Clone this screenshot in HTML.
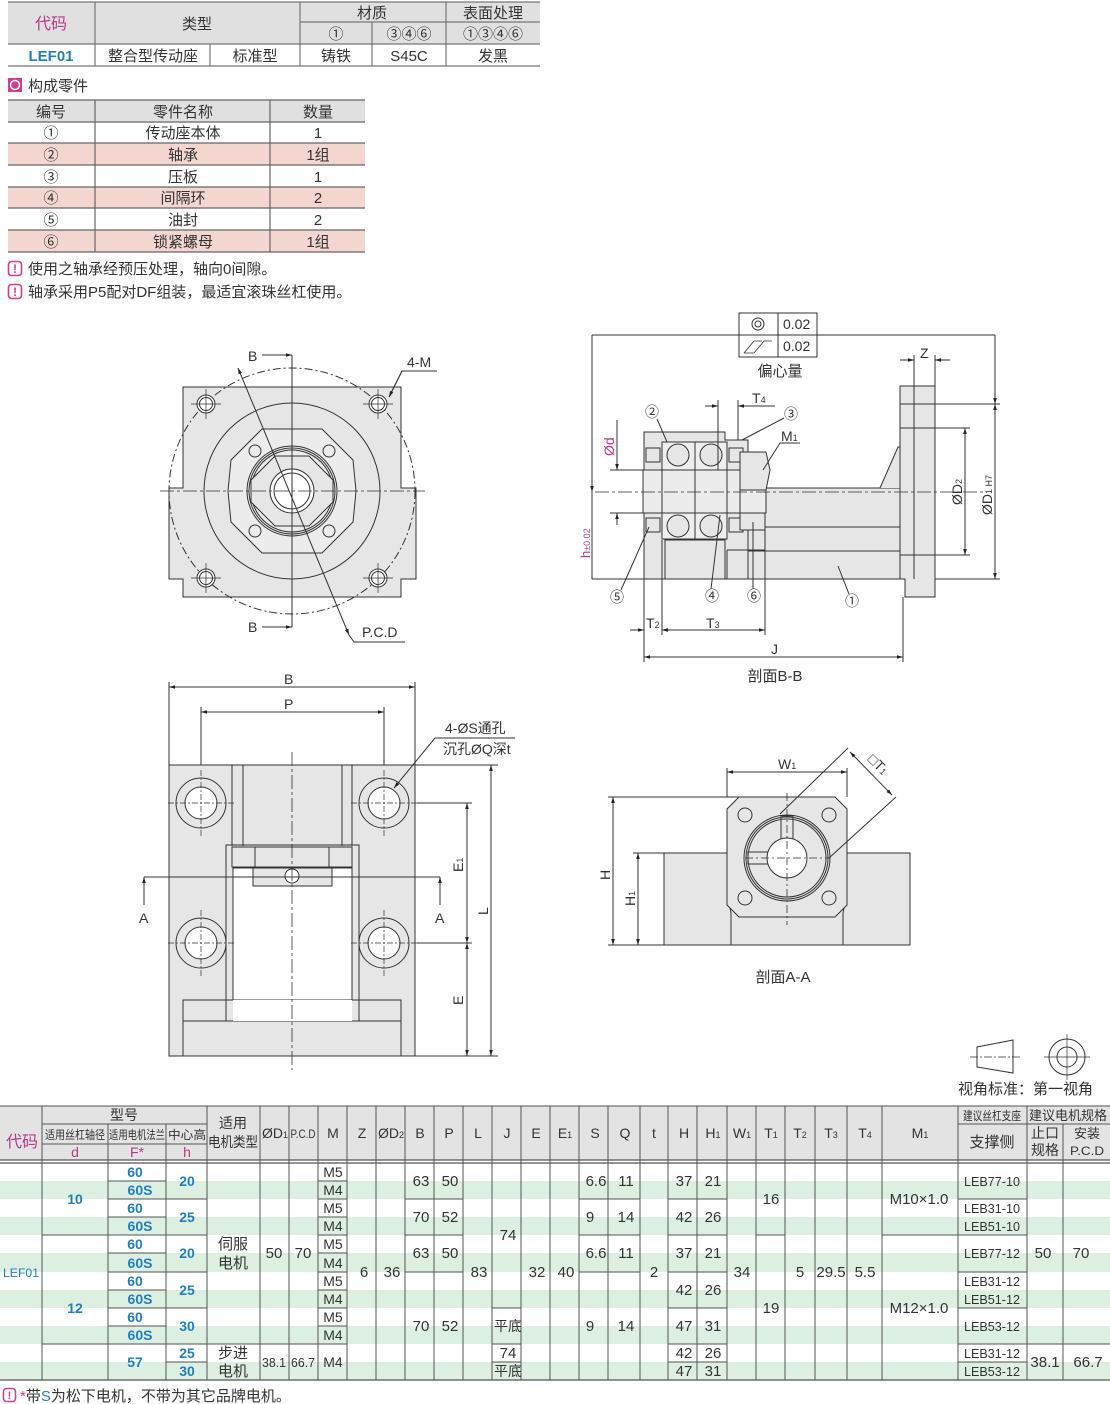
<!DOCTYPE html>
<html><head><meta charset="utf-8"><style>
html,body{margin:0;padding:0;background:#fff;}
svg{display:block;font-family:"Liberation Sans","Noto Sans CJK SC",sans-serif;}
</style></head><body>
<svg width="1110" height="1404" viewBox="0 0 1110 1404" xmlns="http://www.w3.org/2000/svg">
<defs>
<marker id="ar" viewBox="0 0 10 10" refX="10" refY="5" markerWidth="8" markerHeight="6" orient="auto-start-reverse"><path d="M0,2 L10,5 L0,8z" fill="#222"/></marker>
</defs>

<!-- ===== top table ===== -->
<rect x="8" y="2" width="532" height="42" fill="#e0e0e0"/>
<g stroke="#777" stroke-width="1.2" fill="none">
<line x1="8" y1="2" x2="540" y2="2"/><line x1="300" y1="22" x2="540" y2="22"/>
<line x1="8" y1="44" x2="540" y2="44"/><line x1="8" y1="66" x2="540" y2="66"/>
<line x1="95" y1="2" x2="95" y2="66"/><line x1="300" y1="2" x2="300" y2="66"/>
<line x1="372" y1="22" x2="372" y2="66"/><line x1="446" y1="2" x2="446" y2="66"/>
<line x1="210" y1="44" x2="210" y2="66"/>
</g>
<g font-size="15" text-anchor="middle" fill="#333">
<text x="51" y="29" fill="#b8378a" font-size="16">代码</text>
<text x="197" y="29">类型</text><text x="372" y="18">材质</text><text x="493" y="18">表面处理</text>
<text x="336" y="39">①</text><text x="409" y="39">③④⑥</text><text x="493" y="39">①③④⑥</text>
<text x="51" y="61" fill="#1f7fc0" font-weight="bold">LEF01</text>
<text x="153" y="61">整合型传动座</text><text x="255" y="61">标准型</text>
<text x="336" y="61">铸铁</text><text x="409" y="61">S45C</text><text x="493" y="61">发黑</text>
</g>

<rect x="8" y="78" width="14" height="14" fill="#d63a8c"/><circle cx="15" cy="85" r="4.5" fill="none" stroke="#fff" stroke-width="1.5"/>
<text x="28" y="91" font-size="15" fill="#333">构成零件</text>

<!-- parts table -->
<rect x="8" y="100" width="357" height="22" fill="#e0e0e0"/>
<rect x="8" y="143" width="357" height="22" fill="#f2d6cf"/>
<rect x="8" y="187" width="357" height="21" fill="#f2d6cf"/>
<rect x="8" y="230" width="357" height="22" fill="#f2d6cf"/>
<g stroke="#666" stroke-width="1.2">
<line x1="8" y1="100" x2="365" y2="100"/><line x1="8" y1="122" x2="365" y2="122"/>
<line x1="8" y1="143" x2="365" y2="143"/><line x1="8" y1="165" x2="365" y2="165"/>
<line x1="8" y1="187" x2="365" y2="187"/><line x1="8" y1="208" x2="365" y2="208"/>
<line x1="8" y1="230" x2="365" y2="230"/><line x1="8" y1="252" x2="365" y2="252"/>
<line x1="95" y1="100" x2="95" y2="252"/><line x1="270" y1="100" x2="270" y2="252"/>
</g>
<g font-size="15" text-anchor="middle" fill="#333">
<text x="51" y="117">编号</text><text x="183" y="117">零件名称</text><text x="318" y="117">数量</text>
<text x="51" y="138">①</text><text x="183" y="138">传动座本体</text><text x="318" y="138">1</text>
<text x="51" y="160">②</text><text x="183" y="160">轴承</text><text x="318" y="160">1组</text>
<text x="51" y="182">③</text><text x="183" y="182">压板</text><text x="318" y="182">1</text>
<text x="51" y="203">④</text><text x="183" y="203">间隔环</text><text x="318" y="203">2</text>
<text x="51" y="225">⑤</text><text x="183" y="225">油封</text><text x="318" y="225">2</text>
<text x="51" y="247">⑥</text><text x="183" y="247">锁紧螺母</text><text x="318" y="247">1组</text>
</g>
<g font-size="15" fill="#333">
<rect x="8.5" y="261.5" width="13" height="14" rx="3" fill="none" stroke="#d63a8c" stroke-width="1.6"/><text x="15" y="273" text-anchor="middle" fill="#d63a8c" font-size="12" font-weight="bold">!</text>
<text x="28" y="274">使用之轴承经预压处理，轴向0间隙。</text>
<rect x="8.5" y="284.5" width="13" height="14" rx="3" fill="none" stroke="#d63a8c" stroke-width="1.6"/><text x="15" y="296" text-anchor="middle" fill="#d63a8c" font-size="12" font-weight="bold">!</text>
<text x="28" y="297">轴承采用P5配对DF组装，最适宜滚珠丝杠使用。</text>
</g>

<!-- ===== front view ===== -->
<g stroke="#333" stroke-width="1" fill="none">
<path d="M183,387 L401,387 L401,488 L416,488 L416,579 L401,579 L401,597 L183,597 L183,579 L169,579 L169,488 L183,488 Z" fill="#e6e6e6"/>
<circle cx="292" cy="491" r="123" stroke-dasharray="8,3,2,3"/>
<circle cx="292" cy="491" r="88"/>
<path d="M262,429 L322,429 L353,460 L356,491 L353,522 L322,553 L262,553 L231,522 L228,491 L231,460 Z" fill="#ececec"/>
<circle cx="255" cy="451" r="6"/><circle cx="329" cy="451" r="6"/><circle cx="255" cy="531" r="6"/><circle cx="329" cy="531" r="6"/>
<circle cx="292" cy="491" r="45"/><circle cx="292" cy="491" r="43"/><circle cx="292" cy="491" r="41"/>
<path d="M275,456 L309,456 L333,480 L333,502 L309,526 L275,526 L251,502 L251,480 Z" fill="#e6e6e6"/>
<circle cx="292" cy="491" r="22" fill="#fff"/><circle cx="292" cy="491" r="18" fill="#fff"/>
<g fill="#fff"><circle cx="206" cy="404" r="9"/><circle cx="378" cy="404" r="9"/><circle cx="206" cy="578" r="9"/><circle cx="378" cy="578" r="9"/></g>
<circle cx="206" cy="404" r="6.5"/><circle cx="378" cy="404" r="6.5"/><circle cx="206" cy="578" r="6.5"/><circle cx="378" cy="578" r="6.5"/>
<g stroke-width="0.7"><path d="M191,404h30M206,389v30M363,404h30M378,389v30M191,578h30M206,563v30M363,578h30M378,563v30"/></g>
<line x1="160" y1="491" x2="425" y2="491" stroke-dasharray="14,3,3,3" stroke-width="0.8"/>
<line x1="292" y1="355" x2="292" y2="627"/>
<line x1="262" y1="355" x2="292" y2="355" marker-end="url(#ar)"/>
<line x1="262" y1="627" x2="292" y2="627" marker-end="url(#ar)"/>
<line x1="238" y1="368" x2="349" y2="635" marker-start="url(#ar)" marker-end="url(#ar)"/>
<path d="M349,635 L354,642 L405,642"/>
<path d="M389,397 L402,371 L437,371" /><line x1="402" y1="371" x2="389" y2="397" marker-end="url(#ar)"/>
</g>
<g font-size="14" fill="#333">
<text x="248" y="361">B</text><text x="248" y="632">B</text>
<text x="407" y="367">4-M</text><text x="362" y="637">P.C.D</text>
</g>

<!-- ===== section B-B ===== -->
<g stroke="#333" stroke-width="1" fill="none">
<rect x="739" y="313" width="78" height="44"/><line x1="739" y1="335" x2="817" y2="335"/><line x1="778" y1="313" x2="778" y2="357"/>
<circle cx="758" cy="324" r="6"/><circle cx="758" cy="324" r="3"/>
<path d="M744,353 L754,341 L762,341 M754,353 L764,341 L772,341 M744,353 L754,353" stroke-width="0.8"/>
<line x1="592" y1="335" x2="739" y2="335"/><line x1="817" y1="335" x2="995" y2="335"/>
<line x1="592" y1="335" x2="592" y2="579"/>
<!-- body -->
<rect x="748" y="488" width="157" height="91" fill="#e6e6e6"/>
<line x1="748" y1="527" x2="905" y2="527"/><line x1="748" y1="551" x2="905" y2="551"/>
<path d="M880,488 L898,447 L905,447 L905,488" fill="#e6e6e6"/>
<path d="M900,386 L935,386 L935,597 L905,597 L905,579 L900,579 Z" fill="#e6e6e6"/>
<line x1="914" y1="386" x2="914" y2="579"/><line x1="900" y1="404" x2="935" y2="404"/><line x1="900" y1="428" x2="935" y2="428"/><line x1="900" y1="555" x2="935" y2="555"/>
<path d="M644,432 L725,432 L725,440 L748,440 L748,579 L644,579 Z" fill="#e6e6e6"/>
<rect x="665" y="540" width="60" height="39" fill="#e6e6e6"/>
<line x1="665" y1="540" x2="665" y2="579"/><line x1="727" y1="550" x2="727" y2="579"/><line x1="727" y1="550" x2="765" y2="550"/>
<!-- bearings -->
<rect x="662" y="442" width="33" height="97" fill="#eee"/><rect x="695" y="442" width="32" height="97" fill="#eee"/>
<circle cx="678" cy="455" r="11" fill="#e6e6e6"/><circle cx="711" cy="455" r="11" fill="#e6e6e6"/>
<circle cx="678" cy="526" r="11" fill="#e6e6e6"/><circle cx="711" cy="526" r="11" fill="#e6e6e6"/>
<rect x="646" y="448" width="14" height="14"/><rect x="646" y="518" width="14" height="14"/>
<rect x="729" y="448" width="14" height="14"/><rect x="729" y="518" width="14" height="14"/>
<!-- shaft -->
<rect x="643" y="470" width="123" height="43" fill="#ececec"/>
<line x1="662" y1="470" x2="662" y2="513"/><line x1="695" y1="470" x2="695" y2="513"/><line x1="727" y1="470" x2="727" y2="513"/><line x1="740" y1="470" x2="740" y2="513"/>
<path d="M740,452 L766,452 L770,470 L766,490 L740,490 Z" fill="#e6e6e6"/>
<path d="M740,513 L765,513 L765,530 L740,530 Z" fill="#e6e6e6"/>
<line x1="595" y1="492" x2="985" y2="492" stroke-dasharray="14,3,3,3" stroke-width="0.8"/>
<!-- dims -->
<line x1="610" y1="470" x2="643" y2="470"/><line x1="610" y1="513" x2="643" y2="513"/>
<line x1="617" y1="420" x2="617" y2="470" marker-end="url(#ar)"/><line x1="617" y1="525" x2="617" y2="513" marker-end="url(#ar)"/>
<line x1="592" y1="579" x2="900" y2="579"/>
<line x1="592" y1="480" x2="592" y2="492" marker-end="url(#ar)"/>
<line x1="935" y1="404" x2="1000" y2="404"/><line x1="935" y1="579" x2="1000" y2="579"/>
<line x1="935" y1="428" x2="970" y2="428"/><line x1="935" y1="555" x2="970" y2="555"/>
<line x1="965" y1="492" x2="965" y2="428" marker-end="url(#ar)"/><line x1="965" y1="492" x2="965" y2="555" marker-end="url(#ar)"/>
<line x1="995" y1="335" x2="995" y2="404" marker-end="url(#ar)"/><line x1="995" y1="492" x2="995" y2="579" marker-end="url(#ar)"/><line x1="995" y1="492" x2="995" y2="404" marker-end="url(#ar)"/>
<line x1="914" y1="355" x2="914" y2="386"/><line x1="935" y1="355" x2="935" y2="386"/>
<line x1="900" y1="360" x2="914" y2="360" marker-end="url(#ar)"/><line x1="950" y1="360" x2="935" y2="360" marker-end="url(#ar)"/>
<line x1="718" y1="400" x2="718" y2="470"/><line x1="738" y1="400" x2="738" y2="440"/>
<line x1="705" y1="406" x2="718" y2="406" marker-end="url(#ar)"/><line x1="752" y1="406" x2="738" y2="406" marker-end="url(#ar)"/><line x1="752" y1="406" x2="775" y2="406"/>
<line x1="644" y1="579" x2="644" y2="662"/><line x1="662" y1="540" x2="662" y2="635"/><line x1="765" y1="530" x2="765" y2="635"/><line x1="903" y1="597" x2="903" y2="662"/>
<line x1="630" y1="630" x2="644" y2="630" marker-end="url(#ar)"/><line x1="675" y1="630" x2="662" y2="630" marker-end="url(#ar)"/>
<line x1="662" y1="630" x2="765" y2="630" marker-start="url(#ar)" marker-end="url(#ar)"/>
<line x1="644" y1="657" x2="903" y2="657" marker-start="url(#ar)" marker-end="url(#ar)"/>
<!-- leaders -->
<line x1="657" y1="419" x2="667" y2="442"/><line x1="784" y1="418" x2="742" y2="440"/>
<path d="M800,443 L780,443 L763,470"/>
<line x1="621" y1="590" x2="649" y2="527"/><line x1="711" y1="589" x2="720" y2="515"/><line x1="753" y1="589" x2="753" y2="522"/><line x1="849" y1="594" x2="838" y2="566"/>
</g>
<g font-size="14" fill="#333">
<text x="783" y="329">0.02</text><text x="783" y="351">0.02</text>
<text x="780" y="376" text-anchor="middle" font-size="15">偏心量</text>
<text x="920" y="358">Z</text>
<text x="752" y="403">T<tspan font-size="9">4</tspan></text>
<text x="645" y="417">②</text><text x="784" y="419">③</text><text x="781" y="441">M<tspan font-size="9">1</tspan></text>
<text x="610" y="602">⑤</text><text x="705" y="601">④</text><text x="747" y="601">⑥</text><text x="845" y="606">①</text>
<text x="646" y="628">T<tspan font-size="9">2</tspan></text><text x="706" y="628">T<tspan font-size="9">3</tspan></text>
<text x="771" y="654">J</text>
<text x="775" y="681" text-anchor="middle" font-size="15">剖面B-B</text>
<text transform="translate(614,456) rotate(-90)" fill="#b8378a" font-size="14">Ød</text>
<text transform="translate(590,558) rotate(-90)" fill="#b8378a" font-size="13">h<tspan font-size="9">±0.02</tspan></text>
<text transform="translate(962,505) rotate(-90)">ØD<tspan font-size="9">2</tspan></text>
<text transform="translate(992,515) rotate(-90)">ØD<tspan font-size="9">1 H7</tspan></text>
</g>

<!-- ===== bottom view ===== -->
<g stroke="#333" stroke-width="1" fill="none">
<rect x="169" y="765" width="246" height="291" fill="#e6e6e6"/>
<line x1="232" y1="765" x2="232" y2="846"/><line x1="243" y1="765" x2="243" y2="846"/><line x1="342" y1="765" x2="342" y2="846"/><line x1="352" y1="765" x2="352" y2="846"/>
<rect x="226" y="845" width="133" height="176"/>
<rect x="233" y="868" width="119" height="153" fill="#fff"/>
<rect x="232" y="847" width="120" height="20" fill="#e6e6e6"/><line x1="255" y1="847" x2="255" y2="867"/><line x1="329" y1="847" x2="329" y2="867"/>
<rect x="253" y="868" width="79" height="18" fill="#e6e6e6"/>
<circle cx="292" cy="876" r="7" fill="#fff"/>
<rect x="183" y="1000" width="218" height="56" fill="#e6e6e6"/><line x1="183" y1="1021" x2="401" y2="1021"/>
<rect x="233" y="1000" width="119" height="21" fill="#fff" stroke="none"/>
<line x1="226" y1="1000" x2="226" y2="1021"/><line x1="359" y1="1000" x2="359" y2="1021"/>
<g fill="#e6e6e6"><circle cx="201" cy="803" r="25"/><circle cx="384" cy="803" r="25"/><circle cx="201" cy="943" r="25"/><circle cx="384" cy="943" r="25"/></g>
<g fill="#fff"><circle cx="201" cy="803" r="16"/><circle cx="384" cy="803" r="16"/><circle cx="201" cy="943" r="16"/><circle cx="384" cy="943" r="16"/></g>
<g stroke-width="0.7" stroke-dasharray="6,2,2,2"><path d="M168,803h66M201,770v66M351,803h66M384,770v66M168,943h66M201,910v66M351,943h66M384,910v66"/></g>
<line x1="292" y1="752" x2="292" y2="1070" stroke-dasharray="14,3,3,3" stroke-width="0.8"/>
<line x1="169" y1="682" x2="169" y2="765"/><line x1="415" y1="682" x2="415" y2="765"/>
<line x1="201" y1="707" x2="201" y2="765"/><line x1="384" y1="707" x2="384" y2="765"/>
<line x1="169" y1="687" x2="415" y2="687" marker-start="url(#ar)" marker-end="url(#ar)"/>
<line x1="201" y1="712" x2="384" y2="712" marker-start="url(#ar)" marker-end="url(#ar)"/>
<path d="M435,738 L515,738"/><line x1="435" y1="738" x2="394" y2="788" marker-end="url(#ar)"/>
<line x1="144" y1="877" x2="440" y2="877"/>
<line x1="144" y1="905" x2="144" y2="877" marker-end="url(#ar)"/><line x1="440" y1="905" x2="440" y2="877" marker-end="url(#ar)"/>
<line x1="415" y1="765" x2="498" y2="765"/><line x1="417" y1="803" x2="472" y2="803"/><line x1="417" y1="943" x2="472" y2="943"/><line x1="415" y1="1056" x2="498" y2="1056"/>
<line x1="467" y1="803" x2="467" y2="943" marker-start="url(#ar)" marker-end="url(#ar)"/>
<line x1="467" y1="943" x2="467" y2="1056" marker-start="url(#ar)" marker-end="url(#ar)"/>
<line x1="491" y1="765" x2="491" y2="1056" marker-start="url(#ar)" marker-end="url(#ar)"/>
</g>
<g font-size="14" fill="#333">
<text x="284" y="684">B</text><text x="284" y="709">P</text>
<text x="445" y="733">4-ØS通孔</text><text x="443" y="754">沉孔ØQ深t</text>
<text x="139" y="923">A</text><text x="435" y="923">A</text>
<text transform="translate(463,872) rotate(-90)">E<tspan font-size="9">1</tspan></text>
<text transform="translate(463,1005) rotate(-90)">E</text>
<text transform="translate(488,915) rotate(-90)">L</text>
</g>

<!-- ===== section A-A ===== -->
<g stroke="#333" stroke-width="1" fill="none">
<rect x="664" y="853" width="246" height="92" fill="#e6e6e6"/>
<path d="M727,853 L727,893 L731,913 L731,945 M847,853 L847,893 L843,913 L843,945"/>
<path d="M739,797 L835,797 L847,809 L847,905 L835,917 L739,917 L727,905 L727,809 Z" fill="#e6e6e6"/>
<circle cx="787" cy="858" r="43"/><circle cx="787" cy="858" r="41"/><circle cx="787" cy="858" r="39"/>
<rect x="781" y="816" width="12" height="24"/><rect x="748" y="852" width="24" height="12"/>
<circle cx="787" cy="858" r="20" fill="#fff"/>
<circle cx="745" cy="815" r="7"/><circle cx="829" cy="815" r="7"/><circle cx="745" cy="898" r="7"/><circle cx="829" cy="898" r="7"/>
<line x1="745" y1="858" x2="830" y2="858" stroke-dasharray="8,3,2,3" stroke-width="0.8"/>
<line x1="787" y1="793" x2="787" y2="925" stroke-dasharray="8,3,2,3" stroke-width="0.8"/>
<line x1="727" y1="768" x2="727" y2="797"/><line x1="847" y1="768" x2="847" y2="797"/>
<line x1="727" y1="772" x2="847" y2="772" marker-start="url(#ar)" marker-end="url(#ar)"/>
<line x1="780" y1="814" x2="848" y2="748"/><line x1="829" y1="858" x2="896" y2="797"/>
<line x1="850" y1="752" x2="892" y2="795" marker-start="url(#ar)" marker-end="url(#ar)"/>
<line x1="608" y1="797" x2="739" y2="797"/><line x1="608" y1="945" x2="664" y2="945"/><line x1="633" y1="853" x2="664" y2="853"/>
<line x1="613" y1="797" x2="613" y2="945" marker-start="url(#ar)" marker-end="url(#ar)"/>
<line x1="638" y1="853" x2="638" y2="945" marker-start="url(#ar)" marker-end="url(#ar)"/>
</g>
<g font-size="14" fill="#333">
<text x="778" y="769">W<tspan font-size="9">1</tspan></text>
<text transform="translate(867,760) rotate(45)">□T<tspan font-size="9">1</tspan></text>
<text transform="translate(610,880) rotate(-90)">H</text>
<text transform="translate(635,906) rotate(-90)">H<tspan font-size="9">1</tspan></text>
<text x="783" y="982" text-anchor="middle" font-size="15">剖面A-A</text>
</g>

<!-- view icons -->
<g stroke="#333" stroke-width="1" fill="none">
<path d="M977,1047 L1013,1040 L1013,1073 L977,1067 Z"/>
<line x1="970" y1="1057" x2="1020" y2="1057" stroke-dasharray="8,2,2,2" stroke-width="0.7"/>
<circle cx="1067" cy="1057" r="18"/><circle cx="1067" cy="1057" r="10"/>
<line x1="1044" y1="1057" x2="1090" y2="1057" stroke-width="0.7"/><line x1="1067" y1="1034" x2="1067" y2="1080" stroke-width="0.7"/>
</g>
<text x="958" y="1094" font-size="15" fill="#333">视角标准：第一视角</text>

<!-- ===== bottom table ===== -->
<rect x="0" y="1106" width="1110" height="54" fill="#e3e3e3"/>
<g fill="#dcefe0">
<rect x="0" y="1181" width="1110" height="18"/><rect x="0" y="1217" width="1110" height="18"/>
<rect x="0" y="1253" width="1110" height="19"/><rect x="0" y="1290" width="1110" height="18"/>
<rect x="0" y="1326" width="1110" height="18"/><rect x="0" y="1362" width="1110" height="18"/>
</g>
<g stroke="#555" stroke-width="1">
<line x1="0" y1="1106" x2="1110" y2="1106"/>
<line x1="42" y1="1124" x2="207" y2="1124"/><line x1="958" y1="1124" x2="1110" y2="1124"/>
<line x1="42" y1="1144" x2="207" y2="1144"/>
<line x1="0" y1="1160" x2="1110" y2="1160" stroke-width="1.3"/><line x1="0" y1="1163" x2="1110" y2="1163" stroke-width="1.3"/>
<line x1="0" y1="1380" x2="1110" y2="1380" stroke-width="1.3"/>
<path d="M42,1106V1380M108,1124V1380M166,1124V1380M207,1106V1380M260,1106V1380M289,1106V1380M318,1106V1380M347,1106V1380M376,1106V1380M405,1106V1380M434,1106V1380M463,1106V1380M492,1106V1380M521,1106V1380M550,1106V1380M579,1106V1380M608,1106V1380M640,1106V1380M668,1106V1380M697,1106V1380M727,1106V1380M756,1106V1380M785,1106V1380M815,1106V1380M847,1106V1380M882,1106V1380M958,1106V1380M1027,1106V1380M1063,1124V1380"/>
<!-- row separators: y list 1181,1199,1217,1235,1253,1272,1290,1308,1326,1344,1362 -->
<path d="M42,1235H108M42,1344H108"/>
<path d="M108,1181H166M108,1199H166M108,1217H166M108,1235H166M108,1253H166M108,1272H166M108,1290H166M108,1308H166M108,1326H166M108,1344H166"/>
<path d="M166,1199H207M166,1235H207M166,1272H207M166,1308H207M166,1344H207M166,1362H207"/>
<path d="M207,1344H347"/>
<path d="M318,1181H347M318,1199H347M318,1217H347M318,1235H347M318,1253H347M318,1272H347M318,1290H347M318,1308H347M318,1326H347"/>
<path d="M405,1199H463M405,1235H463M405,1272H463"/>
<path d="M492,1308H521M492,1344H521M492,1362H521"/>
<path d="M579,1199H640M579,1235H640M579,1272H640"/>
<path d="M668,1199H727M668,1235H727M668,1272H727M668,1308H727M668,1344H727M668,1362H727"/>
<path d="M756,1235H785M882,1235H958"/>
<path d="M958,1199H1027M958,1235H1027M958,1272H1027M958,1308H1027M958,1344H1027M958,1362H1027"/>
<path d="M1027,1344H1110"/>
</g>
<g font-size="14" fill="#333" text-anchor="middle">
<text x="22" y="1147" fill="#b8378a" font-size="16">代码</text>
<text x="124" y="1120">型号</text>
<text x="75" y="1139" font-size="12" textLength="60" lengthAdjust="spacingAndGlyphs">适用丝杠轴径</text>
<text x="137" y="1139" font-size="12" textLength="56" lengthAdjust="spacingAndGlyphs">适用电机法兰</text>
<text x="187" y="1139" font-size="12" textLength="38" lengthAdjust="spacingAndGlyphs">中心高</text>
<text x="75" y="1157" fill="#b8378a">d</text><text x="137" y="1157" fill="#b8378a">F*</text><text x="187" y="1157" fill="#b8378a">h</text>
<text x="233" y="1128">适用</text><text x="233" y="1147" textLength="50" lengthAdjust="spacingAndGlyphs">电机类型</text>
<text x="275" y="1138">ØD<tspan font-size="9">1</tspan></text>
<text x="303" y="1138" font-size="12" textLength="25" lengthAdjust="spacingAndGlyphs">P.C.D</text>
<text x="333" y="1138">M</text><text x="362" y="1138">Z</text>
<text x="391" y="1138">ØD<tspan font-size="9">2</tspan></text>
<text x="420" y="1138">B</text><text x="449" y="1138">P</text><text x="478" y="1138">L</text><text x="507" y="1138">J</text><text x="536" y="1138">E</text>
<text x="565" y="1138">E<tspan font-size="9">1</tspan></text><text x="595" y="1138">S</text><text x="625" y="1138">Q</text><text x="654" y="1138">t</text>
<text x="684" y="1138">H</text><text x="713" y="1138">H<tspan font-size="9">1</tspan></text><text x="742" y="1138">W<tspan font-size="9">1</tspan></text>
<text x="771" y="1138">T<tspan font-size="9">1</tspan></text><text x="800" y="1138">T<tspan font-size="9">2</tspan></text><text x="831" y="1138">T<tspan font-size="9">3</tspan></text><text x="865" y="1138">T<tspan font-size="9">4</tspan></text>
<text x="920" y="1138">M<tspan font-size="9">1</tspan></text>
<text x="992" y="1120" font-size="12" textLength="58" lengthAdjust="spacingAndGlyphs">建议丝杠支座</text>
<text x="992" y="1147" font-size="15">支撑侧</text>
<text x="1068" y="1120" font-size="13" textLength="78" lengthAdjust="spacingAndGlyphs">建议电机规格</text>
<text x="1045" y="1138" font-size="14">止口</text><text x="1045" y="1155" font-size="14">规格</text>
<text x="1087" y="1138" font-size="13">安装</text><text x="1087" y="1155" font-size="12" textLength="34" lengthAdjust="spacingAndGlyphs">P.C.D</text>
</g>
<g font-size="14" fill="#333" text-anchor="middle">
<g fill="#1f7fc0" font-weight="bold">
<text x="21" y="1277" font-size="12" font-weight="normal" textLength="36" lengthAdjust="spacingAndGlyphs">LEF01</text>
<text x="75" y="1204">10</text><text x="75" y="1313">12</text>
<text x="135" y="1177">60</text><text x="140" y="1195">60S</text><text x="135" y="1213">60</text><text x="140" y="1231">60S</text>
<text x="135" y="1249">60</text><text x="140" y="1268">60S</text><text x="135" y="1286">60</text><text x="140" y="1304">60S</text>
<text x="135" y="1322">60</text><text x="140" y="1340">60S</text><text x="135" y="1367">57</text>
<text x="187" y="1186">20</text><text x="187" y="1222">25</text><text x="187" y="1258">20</text><text x="187" y="1295">25</text><text x="187" y="1331">30</text>
<text x="187" y="1358">25</text><text x="187" y="1376">30</text>
</g>
<text x="233" y="1249" font-size="15">伺服</text><text x="233" y="1268" font-size="15">电机</text>
<text x="233" y="1358" font-size="15">步进</text><text x="233" y="1376" font-size="15">电机</text>
<text x="274" y="1258" font-size="15">50</text><text x="303" y="1258" font-size="15">70</text>
<text x="274" y="1367" font-size="13" textLength="24" lengthAdjust="spacingAndGlyphs">38.1</text><text x="303" y="1367" font-size="13" textLength="24" lengthAdjust="spacingAndGlyphs">66.7</text>
<g font-size="14">
<text x="333" y="1177">M5</text><text x="333" y="1195">M4</text><text x="333" y="1213">M5</text><text x="333" y="1231">M4</text>
<text x="333" y="1249">M5</text><text x="333" y="1268">M4</text><text x="333" y="1286">M5</text><text x="333" y="1304">M4</text>
<text x="333" y="1322">M5</text><text x="333" y="1340">M4</text><text x="333" y="1367">M4</text>
</g>
<g font-size="15">
<text x="364" y="1277">6</text><text x="392" y="1277">36</text>
<text x="421" y="1186">63</text><text x="450" y="1186">50</text><text x="421" y="1222">70</text><text x="450" y="1222">52</text>
<text x="421" y="1258">63</text><text x="450" y="1258">50</text><text x="421" y="1331">70</text><text x="450" y="1331">52</text>
<text x="479" y="1277">83</text>
<text x="508" y="1240">74</text><text x="508" y="1331" font-size="14">平底</text><text x="508" y="1358">74</text><text x="508" y="1376" font-size="14">平底</text>
<text x="537" y="1277">32</text><text x="566" y="1277">40</text>
<text x="596" y="1186">6.6</text><text x="626" y="1186">11</text><text x="590" y="1222">9</text><text x="626" y="1222">14</text>
<text x="596" y="1258">6.6</text><text x="626" y="1258">11</text><text x="590" y="1331">9</text><text x="626" y="1331">14</text>
<text x="654" y="1277">2</text>
<text x="684" y="1186">37</text><text x="713" y="1186">21</text><text x="684" y="1222">42</text><text x="713" y="1222">26</text>
<text x="684" y="1258">37</text><text x="713" y="1258">21</text><text x="684" y="1295">42</text><text x="713" y="1295">26</text>
<text x="684" y="1331">47</text><text x="713" y="1331">31</text><text x="684" y="1358">42</text><text x="713" y="1358">26</text>
<text x="684" y="1376">47</text><text x="713" y="1376">31</text>
<text x="742" y="1277">34</text><text x="771" y="1204">16</text><text x="771" y="1313">19</text>
<text x="800" y="1277">5</text><text x="831" y="1277">29.5</text><text x="865" y="1277">5.5</text>
<text x="919" y="1204">M10×1.0</text><text x="919" y="1313">M12×1.0</text>
<text x="1043" y="1258">50</text><text x="1081" y="1258">70</text>
<text x="1045" y="1367">38.1</text><text x="1088" y="1367">66.7</text>
</g>
<g font-size="13">
<text x="992" y="1186" textLength="56" lengthAdjust="spacingAndGlyphs">LEB77-10</text>
<text x="992" y="1213" textLength="56" lengthAdjust="spacingAndGlyphs">LEB31-10</text>
<text x="992" y="1231" textLength="56" lengthAdjust="spacingAndGlyphs">LEB51-10</text>
<text x="992" y="1258" textLength="56" lengthAdjust="spacingAndGlyphs">LEB77-12</text>
<text x="992" y="1286" textLength="56" lengthAdjust="spacingAndGlyphs">LEB31-12</text>
<text x="992" y="1304" textLength="56" lengthAdjust="spacingAndGlyphs">LEB51-12</text>
<text x="992" y="1331" textLength="56" lengthAdjust="spacingAndGlyphs">LEB53-12</text>
<text x="992" y="1358" textLength="56" lengthAdjust="spacingAndGlyphs">LEB31-12</text>
<text x="992" y="1376" textLength="56" lengthAdjust="spacingAndGlyphs">LEB53-12</text>
</g>
</g>
<rect x="3.5" y="1388.5" width="12" height="13" rx="3" fill="none" stroke="#d63a8c" stroke-width="1.5"/><text x="9.5" y="1399" text-anchor="middle" fill="#d63a8c" font-size="11" font-weight="bold">!</text>
<text x="20" y="1401" font-size="15" fill="#333"><tspan fill="#d63a8c">*</tspan>带<tspan fill="#1f7fc0">S</tspan>为松下电机，不带为其它品牌电机。</text>
</svg>
</body></html>
